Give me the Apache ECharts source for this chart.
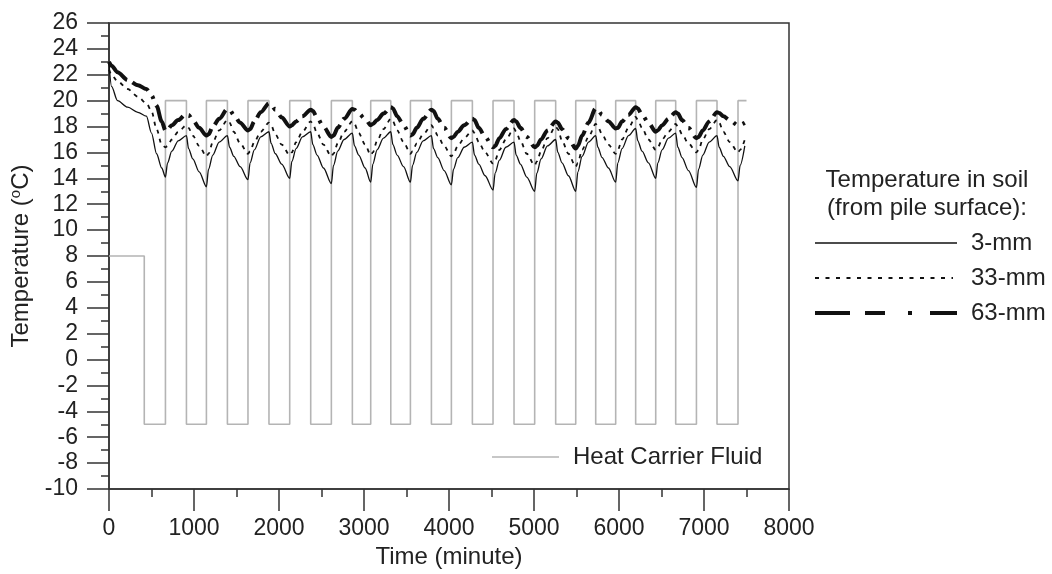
<!DOCTYPE html>
<html><head><meta charset="utf-8">
<script src="https://cdn.jsdelivr.net/npm/echarts@6/dist/echarts.min.js"></script>
<style>html,body{margin:0;padding:0;background:#fff}#c{width:1052px;height:574px}</style>
</head><body><div id="c"></div>
<script>
// ---- data ----
const soilTime = [
0,30,100,220,340,440,500,560,620,
664,689,739,814, 911,936,986,1061, 1146,1171,1221,1296, 1393,1418,1468,1543,
1635,1660,1710,1785, 1882,1907,1957,2032, 2126,2151,2201,2276, 2373,2398,2448,2523,
2616,2641,2691,2766, 2863,2888,2938,3013, 3079,3104,3154,3229, 3315,3340,3390,3465,
3546,3571,3621,3696, 3793,3818,3868,3943, 4028,4053,4103,4178, 4275,4300,4350,4425,
4518,4543,4593,4668, 4765,4790,4840,4915, 5008,5033,5083,5158, 5255,5280,5330,5405,
5491,5516,5566,5641, 5726,5751,5801,5876, 5961,5986,6036,6111, 6196,6221,6271,6346,
6432,6457,6507,6582, 6667,6692,6742,6817, 6911,6936,6986,7061, 7153,7178,7228,7303,
7400,7425,7480];
const soil3mm = [
22.9,21.1,20.0,19.5,19.1,18.8,17.5,15.9,14.8,
14.1,15.2,16.1,16.9, 17.3,16.3,15.5,14.5, 13.35,14.7,15.8,16.8, 17.3,16.4,15.7,14.9,
13.9,15.2,16.2,17.2, 17.6,16.7,15.9,15.1, 14.0,15.3,16.3,17.2, 17.6,16.6,15.8,14.8,
13.6,15.0,16.1,17.0, 17.5,16.5,15.8,14.8, 13.7,15.1,16.2,17.1, 17.6,16.6,15.8,14.9,
13.7,15.0,16.0,16.9, 17.3,16.3,15.6,14.6, 13.5,14.7,15.6,16.4, 16.8,15.8,15.1,14.2,
13.1,14.4,15.4,16.4, 16.8,15.8,15.1,14.1, 13.0,14.4,15.5,16.5, 17.0,16.0,15.2,14.2,
13.0,14.5,15.7,16.8, 17.3,16.4,15.6,14.8, 13.7,15.2,16.3,17.3, 17.85,16.9,16.1,15.2,
14.0,15.2,16.2,17.1, 17.5,16.4,15.6,14.6, 13.3,14.7,15.8,16.8, 17.3,16.4,15.7,14.9,
13.8,15.0,16.5];
const soil33mm = [
22.4,22.0,21.5,20.9,20.3,19.8,19.2,17.8,16.6,
16.4,16.5,17.0,17.6, 18.1,17.9,17.3,16.5, 15.7,15.9,16.8,17.7, 18.5,18.3,17.6,16.7,
15.9,16.1,16.8,17.6, 18.3,18.1,17.4,16.6, 15.8,16.0,16.8,17.6, 18.4,18.2,17.5,16.6,
15.7,15.9,16.7,17.6, 18.4,18.2,17.5,16.6, 15.8,16.0,16.9,17.8, 18.6,18.4,17.7,16.8,
15.9,16.1,16.7,17.4, 18.1,17.9,17.3,16.5, 15.7,15.9,16.5,17.1, 17.7,17.5,16.8,16.0,
15.15,15.4,16.2,17.0, 17.85,17.6,16.9,15.9, 15.0,15.3,16.1,17.1, 18.0,17.8,16.9,15.9,
14.9,15.2,16.2,17.2, 18.2,18.0,17.4,16.6, 15.9,16.2,17.0,17.9, 18.75,18.5,17.9,17.0,
16.2,16.4,17.0,17.6, 18.2,18.0,17.4,16.7, 16.0,16.2,17.0,17.8, 18.5,18.3,17.6,16.8,
16.0,16.2,17.0];
const soil63mm = [
23.0,22.7,22.2,21.6,21.2,20.9,20.4,19.6,18.4,
17.7,17.8,18.1,18.5, 19.0,18.9,18.5,17.9, 17.3,17.4,18.0,18.6, 19.35,19.3,18.9,18.3,
17.7,17.8,18.4,19.1, 19.8,19.7,19.3,18.7, 18.0,18.1,18.4,18.8, 19.3,19.2,18.7,18.0,
17.2,17.3,17.9,18.6, 19.35,19.3,19.0,18.6, 18.1,18.2,18.5,19.0, 19.5,19.4,18.8,18.1,
17.3,17.4,17.9,18.6, 19.3,19.2,18.6,17.9, 17.1,17.2,17.6,18.1, 18.6,18.5,17.9,17.2,
16.4,16.5,17.1,17.8, 18.5,18.4,17.9,17.2, 16.4,16.5,17.0,17.7, 18.4,18.3,17.8,17.1,
16.3,16.5,17.3,18.3, 19.4,19.3,18.9,18.4, 17.85,17.9,18.4,18.9, 19.5,19.4,18.9,18.3,
17.6,17.7,18.1,18.6, 19.1,19.0,18.5,17.9, 17.1,17.2,17.7,18.4, 19.1,19.05,18.8,18.5,
18.1,18.15,18.3];
const fluidTime = [0,415,664,911,1146,1393,1635,1882,2126,2373,2616,2863,3079,3315,3546,3793,
4028,4275,4518,4765,5008,5255,5491,5726,5961,6196,6432,6667,6911,7153,7400,7500];
const fluidTemp = [8,-5,20,-5,20,-5,20,-5,20,-5,20,-5,20,-5,20,-5,
20,-5,20,-5,20,-5,20,-5,20,-5,20,-5,20,-5,20,20];
const seriesNames = ['3-mm','33-mm','63-mm'];
const fluidName = 'Heat Carrier Fluid';
const legendTitle = ['Temperature in soil','(from pile surface):'];

// ---- chart ----
const FONT = '"Liberation Sans", Arial, sans-serif';
const TXT = '#222';
const AX = '#333';
const pairs = (xs, ys) => xs.map((x, i) => [x, ys[i]]);
const dash63 = [26, 6, 18, 7, 3, 7];

const chart = echarts.init(document.getElementById('c'), null, {renderer: 'canvas'});
chart.setOption({
  animation: false,
  backgroundColor: '#fff',
  grid: {left: 109, right: 263, top: 23, bottom: 85, containLabel: false, outerBoundsMode: 'none',
         show: true, borderColor: AX, borderWidth: 1.5, backgroundColor: 'transparent'},
  xAxis: {
    type: 'value', min: 0, max: 8000, interval: 1000,
    name: 'Time (minute)', nameLocation: 'middle', nameGap: 55,
    nameTextStyle: {fontFamily: FONT, fontSize: 24, color: TXT},
    axisLine: {onZero: false, lineStyle: {color: AX, width: 1.5}},
    axisTick: {show: true, inside: false, length: 22, lineStyle: {color: AX, width: 1.5}},
    minorTick: {show: true, splitNumber: 2, length: 8, lineStyle: {color: AX, width: 1.5}},
    axisLabel: {margin: 28, fontFamily: FONT, fontSize: 23, color: TXT, formatter: v => String(v)},
    splitLine: {show: false}, minorSplitLine: {show: false}
  },
  yAxis: {
    type: 'value', min: -10, max: 26, interval: 2,
    name: 'Temperature ({s|o}C)', nameLocation: 'middle', nameGap: 72,
    nameTextStyle: {fontFamily: FONT, fontSize: 24, color: TXT,
      rich: {s: {fontFamily: FONT, fontSize: 15, color: TXT, verticalAlign: 'top', lineHeight: 26}}},
    axisLine: {onZero: false, lineStyle: {color: AX, width: 1.5}},
    axisTick: {show: true, inside: false, length: 22, lineStyle: {color: AX, width: 1.5}},
    minorTick: {show: true, splitNumber: 2, length: 8, lineStyle: {color: AX, width: 1.5}},
    axisLabel: {margin: 31, fontFamily: FONT, fontSize: 23, color: TXT, formatter: v => String(v)},
    splitLine: {show: false}, minorSplitLine: {show: false}
  },
  series: [
    {name: fluidName, type: 'line', step: 'end', data: pairs(fluidTime, fluidTemp),
     showSymbol: false, symbol: 'none', z: 1,
     lineStyle: {color: '#b4b4b4', width: 1.6}},
    {name: seriesNames[0], type: 'line', data: pairs(soilTime, soil3mm), symbol: 'none',
     smooth: 0.3, smoothMonotone: 'x', z: 3, lineStyle: {color: '#111', width: 1.3}},
    {name: seriesNames[1], type: 'line', data: pairs(soilTime, soil33mm), symbol: 'none',
     smooth: 0.3, smoothMonotone: 'x', z: 3, lineStyle: {color: '#111', width: 1.8, type: [4, 5]}},
    {name: seriesNames[2], type: 'line', data: pairs(soilTime, soil63mm), symbol: 'none',
     smooth: 0.3, smoothMonotone: 'x', z: 4, lineStyle: {color: '#111', width: 4, type: dash63, cap: 'butt'}}
  ],
  graphic: [
    {type: 'line', shape: {x1: 492, y1: 457, x2: 559, y2: 457}, style: {stroke: '#b4b4b4', lineWidth: 1.6}},
    {type: 'text', x: 573, y: 457, style: {text: fluidName, font: '24px ' + FONT, fill: TXT, verticalAlign: 'middle'}},
    {type: 'text', x: 927, y: 180, style: {text: legendTitle[0], font: '24px ' + FONT, fill: TXT, align: 'center', verticalAlign: 'middle'}},
    {type: 'text', x: 927, y: 208, style: {text: legendTitle[1], font: '24px ' + FONT, fill: TXT, align: 'center', verticalAlign: 'middle'}},
    {type: 'line', shape: {x1: 815, y1: 243, x2: 957, y2: 243}, style: {stroke: '#111', lineWidth: 1.3}},
    {type: 'text', x: 971, y: 243, style: {text: seriesNames[0], font: '24px ' + FONT, fill: TXT, verticalAlign: 'middle'}},
    {type: 'line', shape: {x1: 815, y1: 278, x2: 953, y2: 278}, style: {stroke: '#111', lineWidth: 1.8, lineDash: [4, 6.5]}},
    {type: 'text', x: 971, y: 278, style: {text: seriesNames[1], font: '24px ' + FONT, fill: TXT, verticalAlign: 'middle'}},
    {type: 'line', shape: {x1: 815, y1: 313, x2: 957, y2: 313}, style: {stroke: '#111', lineWidth: 4, lineDash: [35, 15, 20, 23, 4, 18, 27, 0]}},
    {type: 'text', x: 971, y: 313, style: {text: seriesNames[2], font: '24px ' + FONT, fill: TXT, verticalAlign: 'middle'}}
  ]
});
</script></body></html>
